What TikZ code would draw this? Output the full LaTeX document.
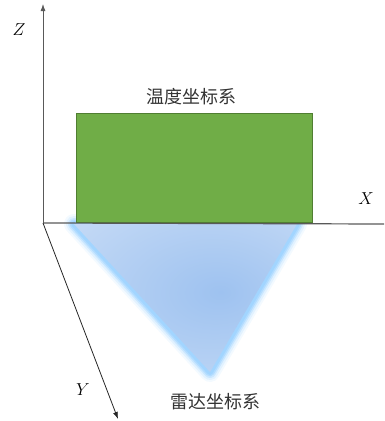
\documentclass[tikz,border=0pt]{standalone}
\usepackage{fontspec}
\newfontfamily\cjk{Noto Sans CJK SC}
\usetikzlibrary{arrows.meta}
\definecolor{leafgreen}{HTML}{70AD47}
\definecolor{leafedge}{HTML}{507E32}
\definecolor{axisgray}{HTML}{595959}
\definecolor{glowblue}{HTML}{9ED3FF}
\definecolor{radarmid}{HTML}{9EC2F0}
\definecolor{radaredge}{HTML}{DAE7F8}
\pgfdeclareradialshading{radarfill}{\pgfpoint{8bp}{2bp}}{color(0bp)=(radarmid); color(42bp)=(radaredge!70!radarmid); color(70bp)=(radaredge)}

\begin{document}
\begin{tikzpicture}[x=1pt, y=-1pt, font=\fontsize{17}{20}\selectfont, axis/.style={-{Latex[length=7pt,width=5pt]}, line width=0.8pt}]
\useasboundingbox (0,0) rectangle (384,421);
\coordinate (O) at (43,223); \coordinate (Ztip) at (43,4); \coordinate (Xend) at (384,224); \coordinate (Ytip) at (118,419);
\coordinate (R1) at (74,224); \coordinate (R2) at (297,224); \coordinate (R3) at (210,372);
% radar triangle with its soft glow
\foreach \w/\o in {20/0.12, 16/0.2, 12/0.35, 9/0.55, 6/0.8} {\draw[glowblue, line width=\w pt, line join=round, opacity=\o] (R1) -- (R2) -- (R3) -- cycle;}
\shade[shading=radarfill] (R1) -- (R2) -- (R3) -- cycle;
\node[draw=leafedge, fill=leafgreen, line width=0.8pt, minimum width=236pt, minimum height=109pt, inner sep=0pt, anchor=south west] (temp) at (76,223) {};
\draw[axis, axisgray] (O) -- (Ztip); \draw[axisgray, line width=1.2pt] (O) -- (Xend); \draw[axis, black!85] (O) -- (Ytip);
\node (zlab) at (19,30) {$Z$}; \node (xlab) at (366,199) {$X$}; \node (ylab) at (83,390) {$Y$};
\node[font=\cjk\fontsize{18}{22}\selectfont, text=black!80] (templab) at (191,97) {温度坐标系};
\node[font=\cjk\fontsize{18}{22}\selectfont, text=black!80] (radarlab) at (215,402) {雷达坐标系};
\end{tikzpicture}
\end{document}
